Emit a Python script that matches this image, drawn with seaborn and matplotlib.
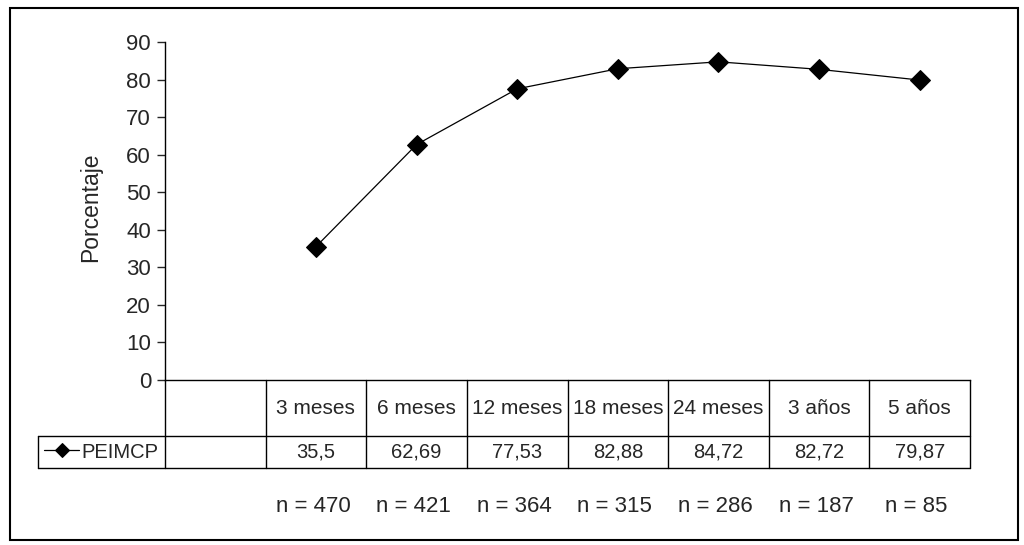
import matplotlib
matplotlib.use("Agg")
import matplotlib.pyplot as plt
from matplotlib.patches import Rectangle
import seaborn as sns
import pandas as pd

# Data
periodos = ["3 meses", "6 meses", "12 meses", "18 meses", "24 meses", "3 años", "5 años"]
peimcp = [35.5, 62.69, 77.53, 82.88, 84.72, 82.72, 79.87]
n_casos = [470, 421, 364, 315, 286, 187, 85]
yticks = [0, 10, 20, 30, 40, 50, 60, 70, 80, 90]

sns.set_style("white")
plt.rcParams["font.family"] = ["Liberation Sans", "DejaVu Sans"]
plt.rcParams["font.size"] = 15

df = pd.DataFrame({"periodo": periodos, "valor": peimcp})

fig = plt.figure(figsize=(10.24, 5.45), dpi=100)
W, H = 1024, 545
ax = fig.add_axes([165 / W, (H - 380) / H, 805 / W, 338 / H])

sns.lineplot(data=df, x="periodo", y="valor", ax=ax, color="black", marker="D",
             markersize=10, markeredgecolor="black", linewidth=0.9, sort=False,
             label="PEIMCP")

ax.set_xlim(-1.5, len(periodos) - 0.5)
ax.set_ylim(0, 90)
ax.set_yticks(yticks)
ax.set_xticks([])
ax.set_xlabel("")
ax.set_ylabel("Porcentaje", fontsize=16.5)
ax.yaxis.set_label_coords((102 - 165) / 805, (380 - 207) / 338)
ax.tick_params(axis="y", direction="out", length=6, width=1, pad=4, labelsize=16, left=True)
for s in ["top", "right"]:
    ax.spines[s].set_visible(False)
for s in ["left", "bottom"]:
    ax.spines[s].set_linewidth(1.0)
    ax.spines[s].set_color("black")

# Data table below the axis
tr = ax.get_xaxis_transform()
y_head = -56 / 338
y_row = -88 / 338
x_lab = -1.5 - (165 - 38) / 100.625
x_end = len(periodos) - 0.5
lw = 1.0
ax.plot([x_lab, x_end], [y_head, y_head], color="black", lw=lw, transform=tr, clip_on=False)
ax.plot([x_lab, x_end], [y_row, y_row], color="black", lw=lw, transform=tr, clip_on=False)
ax.plot([x_lab, x_lab], [y_head, y_row], color="black", lw=lw, transform=tr, clip_on=False)
for k in range(len(periodos) + 2):
    xb = -1.5 + k
    ax.plot([xb, xb], [0, y_row], color="black", lw=lw, transform=tr, clip_on=False)

for i, (p, v, n) in enumerate(zip(periodos, peimcp, n_casos)):
    ax.text(i, -28 / 338, p, transform=tr, ha="center", va="center", fontsize=15)
    ax.text(i, -72 / 338, f"{v:g}".replace(".", ","), transform=tr,
            ha="center", va="center", fontsize=14.5)
    ax.text(i - 0.03, -127 / 338, f"n = {n}", transform=tr,
            ha="center", va="center", fontsize=16)

ax.legend(loc="center left", bbox_to_anchor=((44 - 165) / 805, -72 / 338),
          frameon=False, borderpad=0, borderaxespad=0, handlelength=1.75,
          handletextpad=0.1, markerscale=0.7, fontsize=14.5)

# Outer frame
fig.add_artist(Rectangle((10 / W, 5 / H), 1008 / W, 532 / H, transform=fig.transFigure,
                         fill=False, edgecolor="black", linewidth=1.5))

fig.savefig("out.png", dpi=100)
